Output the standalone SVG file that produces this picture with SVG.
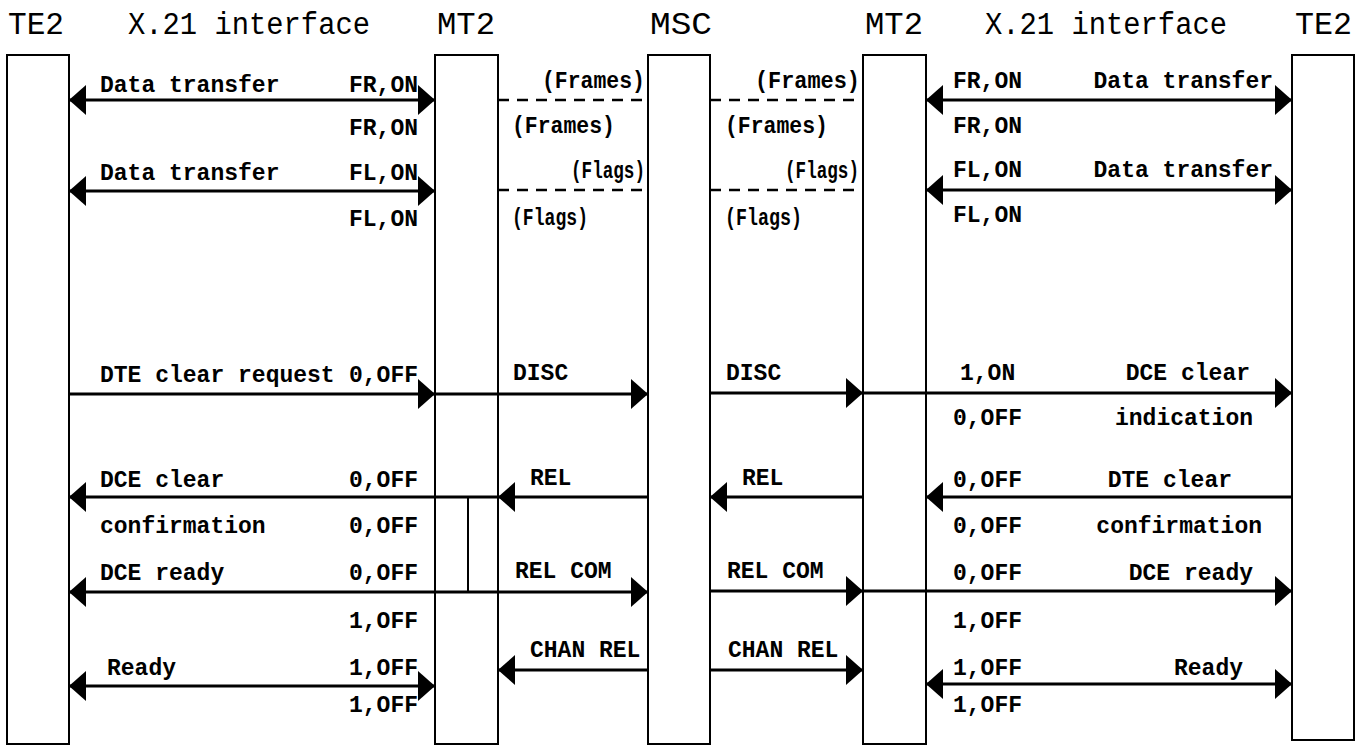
<svg xmlns="http://www.w3.org/2000/svg" width="1358" height="747" viewBox="0 0 1358 747">
<style>
.box{fill:#fff;stroke:#000;stroke-width:2}
.title{font-family:"Liberation Mono",monospace;font-size:31px;fill:#000}
.lbl{font-family:"Liberation Mono",monospace;font-size:23px;font-weight:bold;fill:#000}
.end{text-anchor:end}
.arr{stroke:#000;stroke-width:3;fill:none}
.dash{stroke:#000;stroke-width:2.5;fill:none;stroke-dasharray:11 8}
.thin{stroke:#000;stroke-width:2;fill:none}
</style>
<defs>
<marker id="ah" markerUnits="userSpaceOnUse" viewBox="0 -16 17 32" refX="17" refY="0" markerWidth="17" markerHeight="32" orient="auto-start-reverse">
<path d="M0,-15 L17,0 L0,15 Z" fill="#000"/>
</marker>
</defs>
<rect width="1358" height="747" fill="#fff"/>
<g id="te2-left"><rect class="box" x="7" y="55" width="62" height="689"/><text class="title" x="8" y="34" textLength="56" lengthAdjust="spacingAndGlyphs">TE2</text></g>
<g id="x21-left"><text class="title" x="128" y="34" textLength="242" lengthAdjust="spacingAndGlyphs">X.21 interface</text></g>
<g id="mt2-left"><rect class="box" x="435" y="55" width="63" height="689"/><text class="title" x="437" y="34" textLength="58" lengthAdjust="spacingAndGlyphs">MT2</text></g>
<g id="msc"><rect class="box" x="648" y="55" width="62" height="689"/><text class="title" x="650" y="34" textLength="62" lengthAdjust="spacingAndGlyphs">MSC</text></g>
<g id="mt2-right"><rect class="box" x="863" y="55" width="63" height="689"/><text class="title" x="865" y="34" textLength="58" lengthAdjust="spacingAndGlyphs">MT2</text></g>
<g id="x21-right"><text class="title" x="985" y="34" textLength="242" lengthAdjust="spacingAndGlyphs">X.21 interface</text></g>
<g id="te2-right"><rect class="box" x="1292" y="55" width="62" height="685"/><text class="title" x="1295" y="34" textLength="57" lengthAdjust="spacingAndGlyphs">TE2</text></g>
<g id="connectors">
<line class="arr" x1="69" y1="100" x2="435" y2="100" marker-start="url(#ah)" marker-end="url(#ah)"/>
<line class="dash" x1="498" y1="100" x2="648" y2="100"/>
<line class="dash" x1="710" y1="100" x2="863" y2="100"/>
<line class="arr" x1="926" y1="100" x2="1292" y2="100" marker-start="url(#ah)" marker-end="url(#ah)"/>
<line class="arr" x1="69" y1="191" x2="435" y2="191" marker-start="url(#ah)" marker-end="url(#ah)"/>
<line class="dash" x1="498" y1="190" x2="648" y2="190"/>
<line class="dash" x1="710" y1="190" x2="863" y2="190"/>
<line class="arr" x1="926" y1="190" x2="1292" y2="190" marker-start="url(#ah)" marker-end="url(#ah)"/>
<line class="arr" x1="69" y1="394" x2="435" y2="394" marker-end="url(#ah)"/>
<line class="arr" x1="435" y1="394" x2="648" y2="394" marker-end="url(#ah)"/>
<line class="arr" x1="710" y1="393" x2="863" y2="393" marker-end="url(#ah)"/>
<line class="arr" x1="863" y1="393" x2="1292" y2="393" marker-end="url(#ah)"/>
<line class="arr" x1="498" y1="497" x2="69" y2="497" marker-end="url(#ah)"/>
<line class="arr" x1="648" y1="497" x2="498" y2="497" marker-end="url(#ah)"/>
<line class="arr" x1="863" y1="497" x2="710" y2="497" marker-end="url(#ah)"/>
<line class="arr" x1="1292" y1="497" x2="926" y2="497" marker-end="url(#ah)"/>
<line class="thin" x1="468" y1="497" x2="468" y2="592"/>
<line class="arr" x1="69" y1="592" x2="648" y2="592" marker-start="url(#ah)" marker-end="url(#ah)"/>
<line class="arr" x1="710" y1="591" x2="863" y2="591" marker-end="url(#ah)"/>
<line class="arr" x1="863" y1="591" x2="1292" y2="591" marker-end="url(#ah)"/>
<line class="arr" x1="648" y1="670" x2="498" y2="670" marker-end="url(#ah)"/>
<line class="arr" x1="710" y1="670" x2="863" y2="670" marker-end="url(#ah)"/>
<line class="arr" x1="69" y1="686" x2="435" y2="686" marker-start="url(#ah)" marker-end="url(#ah)"/>
<line class="arr" x1="926" y1="684" x2="1292" y2="684" marker-start="url(#ah)" marker-end="url(#ah)"/>
</g>
<g id="labels">
<text class="lbl" x="100" y="92">Data transfer</text>
<text class="lbl end" x="418" y="92">FR,ON</text>
<text class="lbl end" x="418" y="135">FR,ON</text>
<text class="lbl" x="100" y="180">Data transfer</text>
<text class="lbl end" x="418" y="180">FL,ON</text>
<text class="lbl end" x="418" y="226">FL,ON</text>
<text class="lbl" x="100" y="382">DTE clear request</text>
<text class="lbl end" x="418" y="382">0,OFF</text>
<text class="lbl" x="100" y="487">DCE clear</text>
<text class="lbl end" x="418" y="487">0,OFF</text>
<text class="lbl" x="100" y="533">confirmation</text>
<text class="lbl end" x="418" y="533">0,OFF</text>
<text class="lbl" x="100" y="580">DCE ready</text>
<text class="lbl end" x="418" y="580">0,OFF</text>
<text class="lbl end" x="418" y="628">1,OFF</text>
<text class="lbl" x="107" y="675">Ready</text>
<text class="lbl end" x="418" y="675">1,OFF</text>
<text class="lbl end" x="418" y="712">1,OFF</text>
<text class="lbl" x="542" y="88" textLength="103" lengthAdjust="spacingAndGlyphs">(Frames)</text>
<text class="lbl" x="512" y="133" textLength="103" lengthAdjust="spacingAndGlyphs">(Frames)</text>
<text class="lbl" x="571" y="178" textLength="74" lengthAdjust="spacingAndGlyphs">(Flags)</text>
<text class="lbl" x="512" y="225" textLength="76" lengthAdjust="spacingAndGlyphs">(Flags)</text>
<text class="lbl" x="513" y="380">DISC</text>
<text class="lbl" x="530" y="485">REL</text>
<text class="lbl" x="515" y="578">REL COM</text>
<text class="lbl" x="530" y="657">CHAN REL</text>
<text class="lbl" x="755" y="88" textLength="105" lengthAdjust="spacingAndGlyphs">(Frames)</text>
<text class="lbl" x="725" y="133" textLength="103" lengthAdjust="spacingAndGlyphs">(Frames)</text>
<text class="lbl" x="785" y="178" textLength="74" lengthAdjust="spacingAndGlyphs">(Flags)</text>
<text class="lbl" x="725" y="225" textLength="77" lengthAdjust="spacingAndGlyphs">(Flags)</text>
<text class="lbl" x="726" y="380">DISC</text>
<text class="lbl" x="742" y="485">REL</text>
<text class="lbl" x="727" y="578">REL COM</text>
<text class="lbl" x="728" y="657">CHAN REL</text>
<text class="lbl" x="953" y="88">FR,ON</text>
<text class="lbl end" x="1273" y="88">Data transfer</text>
<text class="lbl" x="953" y="133">FR,ON</text>
<text class="lbl" x="953" y="177">FL,ON</text>
<text class="lbl end" x="1273" y="177">Data transfer</text>
<text class="lbl" x="953" y="222">FL,ON</text>
<text class="lbl" x="960" y="380">1,ON</text>
<text class="lbl end" x="1250" y="380">DCE clear</text>
<text class="lbl" x="953" y="425">0,OFF</text>
<text class="lbl end" x="1253" y="425">indication</text>
<text class="lbl" x="953" y="487">0,OFF</text>
<text class="lbl end" x="1232" y="487">DTE clear</text>
<text class="lbl" x="953" y="533">0,OFF</text>
<text class="lbl end" x="1262" y="533">confirmation</text>
<text class="lbl" x="953" y="580">0,OFF</text>
<text class="lbl end" x="1253" y="580">DCE ready</text>
<text class="lbl" x="953" y="628">1,OFF</text>
<text class="lbl" x="953" y="675">1,OFF</text>
<text class="lbl end" x="1243" y="675">Ready</text>
<text class="lbl" x="953" y="712">1,OFF</text>
</g>
</svg>
